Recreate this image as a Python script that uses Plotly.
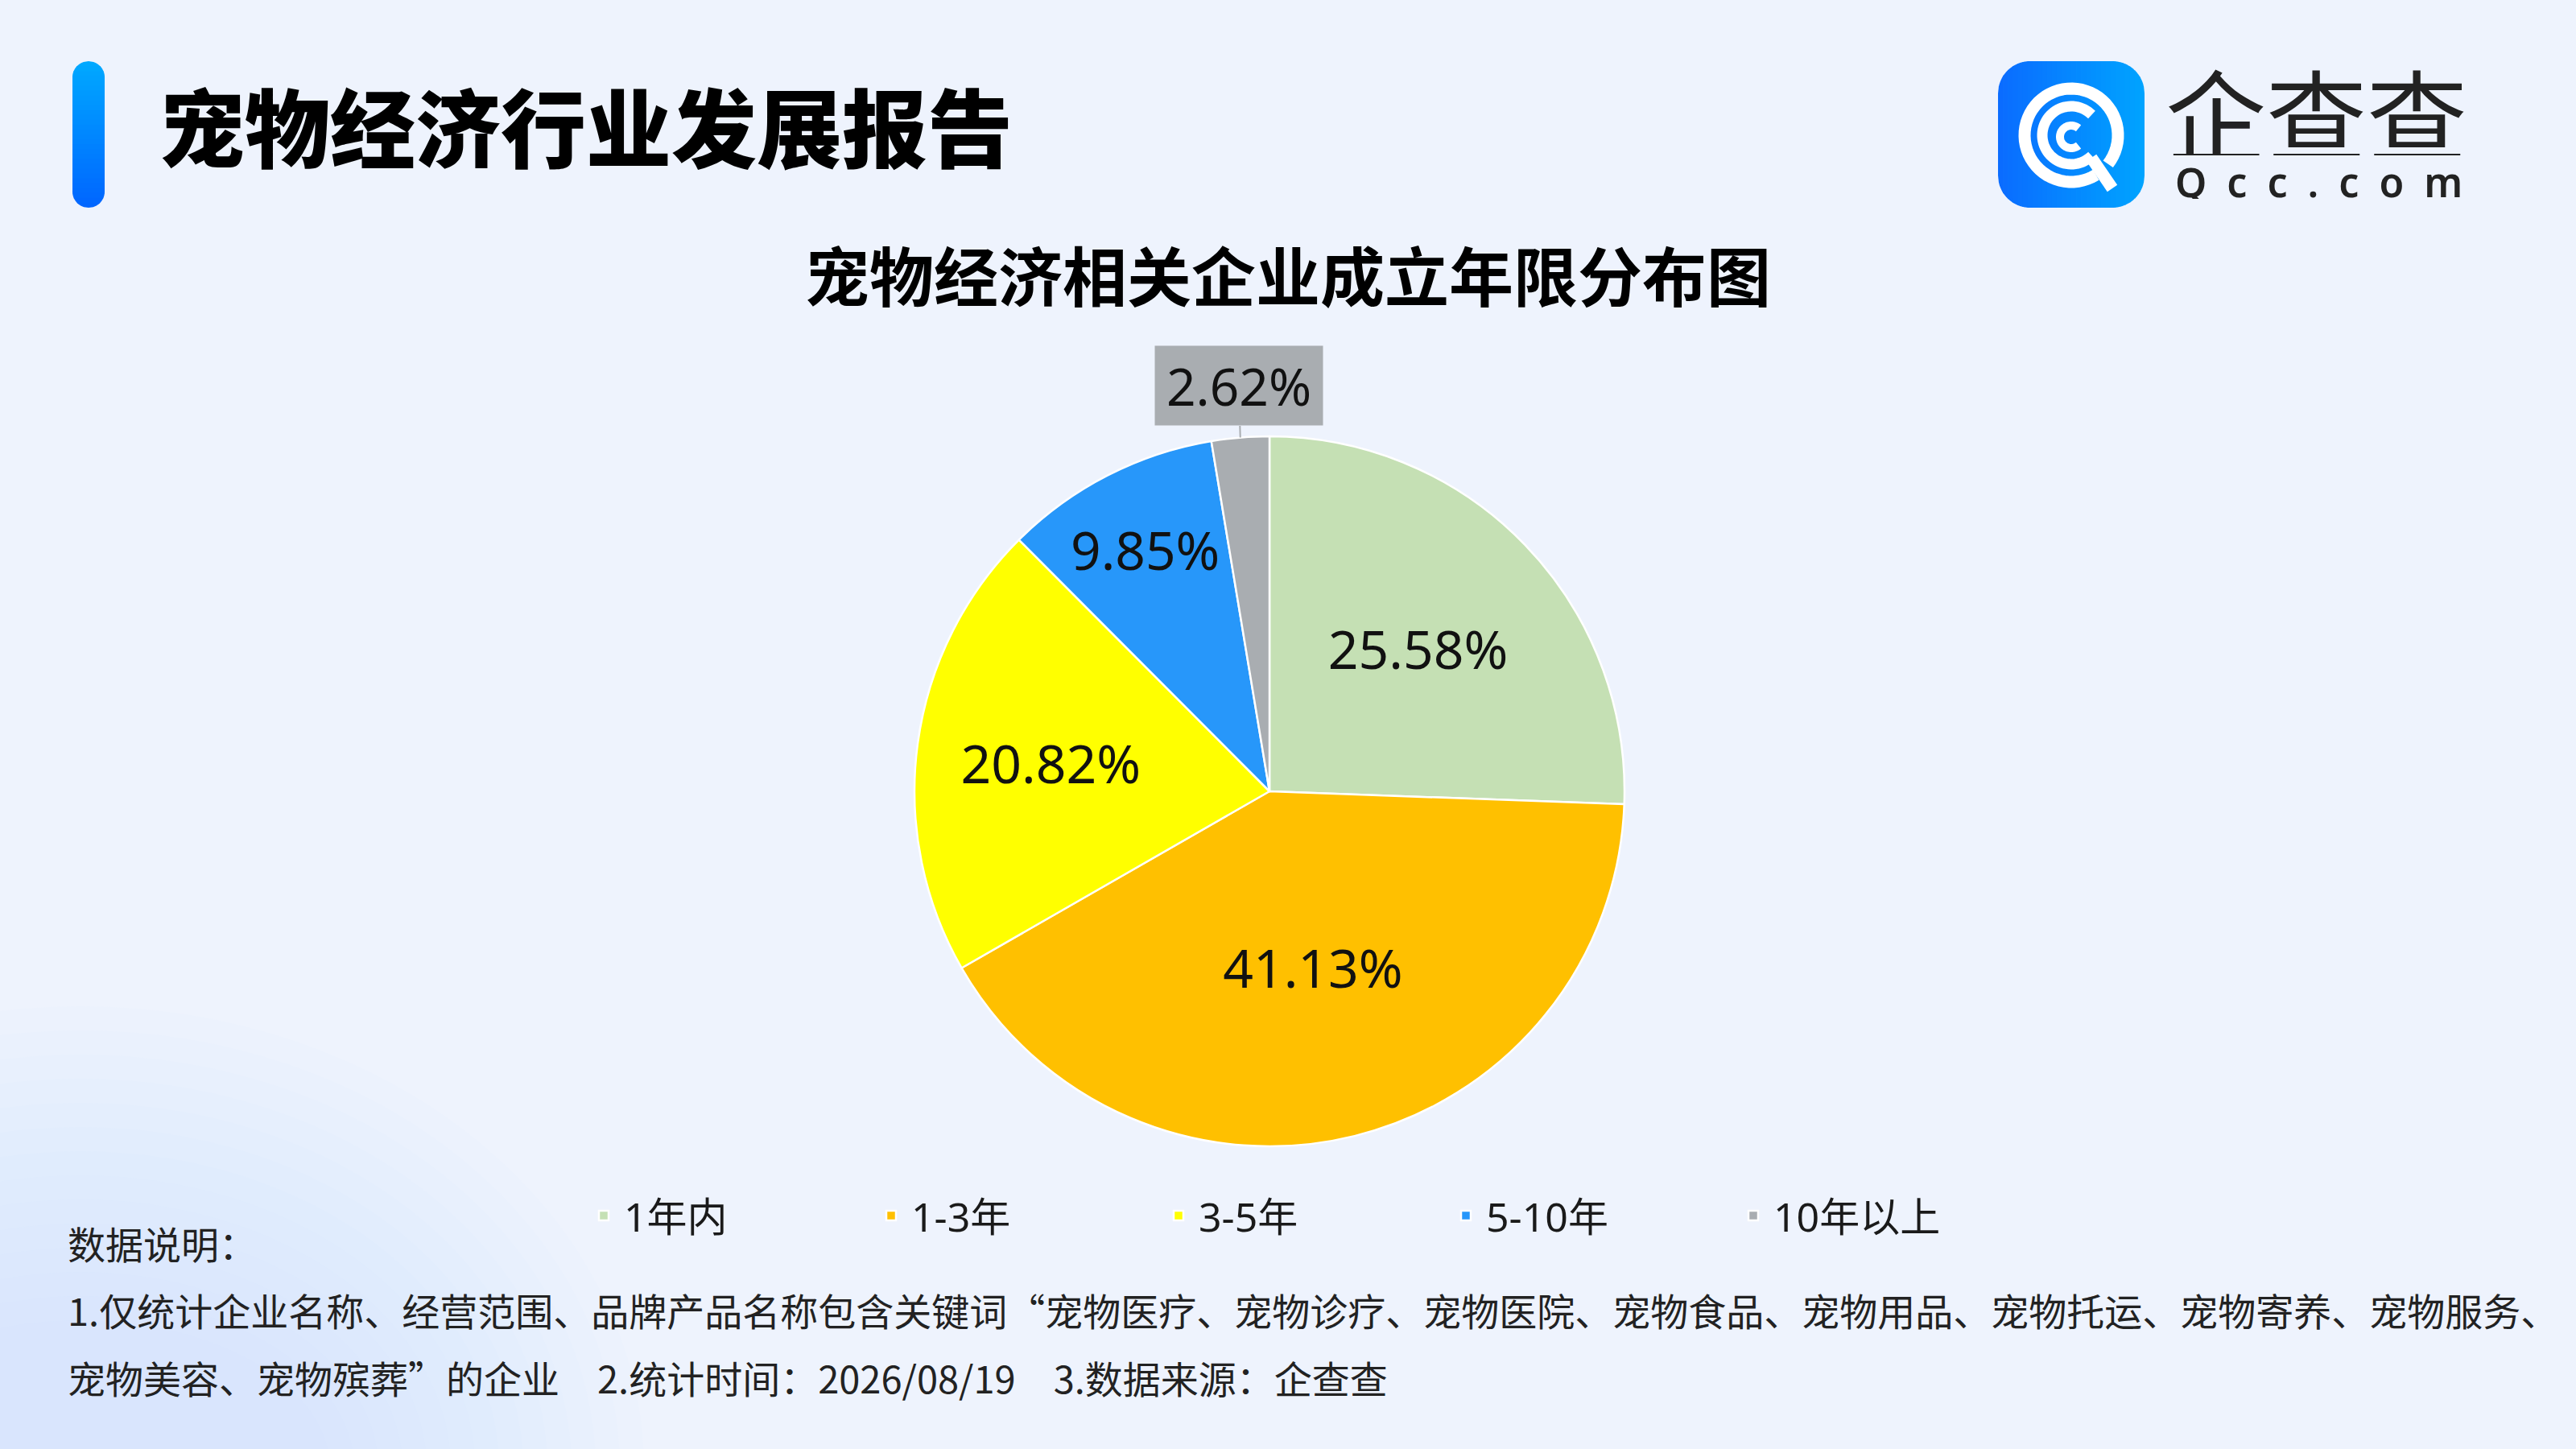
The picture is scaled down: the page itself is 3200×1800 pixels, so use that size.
import numpy as np
import plotly.graph_objects as go

W, H = 3200, 1800
FONT = 'Noto Sans, Noto Sans CJK SC'
CJK = 'Noto Sans CJK SC'

# data
labels = ['1年内', '1-3年', '3-5年', '5-10年', '10年以上']
shares = [25.58, 41.13, 20.82, 9.85, 2.62]
colors = ['#C5E0B4', '#FFC000', '#FFFF00', '#2797FA', '#A9ADB1']

report_title = '宠物经济行业发展报告'
chart_title = '宠物经济相关企业成立年限分布图'
notes = [
    '数据说明：',
    '1.仅统计企业名称、经营范围、品牌产品名称包含关键词“宠物医疗、宠物诊疗、宠物医院、宠物食品、宠物用品、宠物托运、宠物寄养、宠物服务、',
    '宠物美容、宠物殡葬”的企业\u30002.统计时间：2026/08/19\u30003.数据来源：企查查',
]


def to_paper(x, y):
    return x / W, 1 - y / H


def path_of(points, close=True):
    s = ''
    for i, (x, y) in enumerate(points):
        px, py = to_paper(x, y)
        s += ('M' if i == 0 else 'L') + f'{px:.5f},{py:.5f} '
    return s + ('Z' if close else '')


def rrect_band(x0, x1, y0, y1, rad, a, b, vertical_bands):
    # piece of a rounded rectangle between a and b (x if vertical_bands else y)
    ts = np.linspace(a, b, 8)
    lo, hi = [], []
    for t in ts:
        if vertical_bands:
            d = max(0, x0 + rad - t, t - (x1 - rad))
            e = rad - np.sqrt(max(rad ** 2 - d ** 2, 0))
            lo.append((t, y0 + e)); hi.append((t, y1 - e))
        else:
            d = max(0, y0 + rad - t, t - (y1 - rad))
            e = rad - np.sqrt(max(rad ** 2 - d ** 2, 0))
            lo.append((x0 + e, t)); hi.append((x1 - e, t))
    return lo + hi[::-1]


def mix(c1, c2, f):
    a = [int(c1[i:i + 2], 16) for i in (1, 3, 5)]
    b = [int(c2[i:i + 2], 16) for i in (1, 3, 5)]
    return '#' + ''.join(f'{round(a[k] + (b[k] - a[k]) * f):02x}' for k in range(3))


def gradient_rrect(x0, x1, y0, y1, rad, c1, c2, vertical_bands, n=24):
    out = []
    lo_, hi_ = (x0, x1) if vertical_bands else (y0, y1)
    step = (hi_ - lo_) / n
    for i in range(n):
        a = lo_ + i * step
        b = min(hi_, a + step + 0.8)
        out.append(dict(type='path', xref='paper', yref='paper', layer='below',
                        path=path_of(rrect_band(x0, x1, y0, y1, rad, a, b, vertical_bands)),
                        fillcolor=mix(c1, c2, i / (n - 1)), line=dict(width=0)))
    return out


def arc(cx, cy, rr, a0, a1, n=60):
    t = np.radians(np.linspace(a0, a1, n))
    return [(cx + rr * np.cos(v), cy + rr * np.sin(v)) for v in t]


shapes = []

# soft background glow
for k in range(14):
    shapes.append(dict(type='circle', xref='paper', yref='paper', layer='below',
                       x0=(-600 + k * 30) / W, x1=(800 - k * 30) / W,
                       y0=1 - (2400 - k * 30) / H, y1=1 - (1250 + k * 30) / H,
                       fillcolor='#CFE3FA', opacity=0.03, line=dict(width=0)))
for k in range(12):
    shapes.append(dict(type='circle', xref='paper', yref='paper', layer='below',
                       x0=(1100 + k * 30) / W, x1=(2000 - k * 30) / W,
                       y0=1 - (250 - k * 20) / H, y1=1 - (-350 + k * 20) / H,
                       fillcolor='#FFFFFF', opacity=0.05, line=dict(width=0)))

# title accent bar
shapes += gradient_rrect(90, 130, 76, 258, 20, '#00A8FF', '#0066FF', False, n=30)

# logo tile
shapes += gradient_rrect(2482, 2664, 76, 258, 40, '#0A6CFF', '#00A3FF', True, n=30)
lcx, lcy = 2573, 168
shapes.append(dict(type='path', xref='paper', yref='paper',
                   path=path_of(arc(lcx, lcy, 58, 58, 398), close=False), line=dict(color='white', width=15)))
shapes.append(dict(type='path', xref='paper', yref='paper',
                   path=path_of(arc(lcx, lcy, 36, 45, 315), close=False), line=dict(color='white', width=13)))
shapes.append(dict(type='path', xref='paper', yref='paper',
                   path=path_of(arc(lcx, lcy + 2, 14, 50, 310), close=False), line=dict(color='white', width=10)))
shapes.append(dict(type='path', xref='paper', yref='paper',
                   path=path_of([(2598, 196), (2624, 234)], close=False), line=dict(color='white', width=15)))

# pie placement
cx, cy, r = 1577, 983, 441
dom_x = [(cx - r - 80) / W, (cx + r + 80) / W]
dom_y = [1 - (cy + r) / H, 1 - (cy - r) / H]

fig = go.Figure()
fig.add_trace(go.Pie(
    labels=labels, values=shares, sort=False, direction='clockwise', rotation=0,
    marker=dict(colors=colors, line=dict(color='white', width=2.5)),
    texttemplate='%{value:.2f}%',
    textposition=['inside'] * (len(shares) - 1) + ['none'],
    insidetextorientation='horizontal',
    textfont=dict(family=FONT, size=66, color='#111111'),
    domain=dict(x=dom_x, y=dom_y),
    hoverinfo='label+percent',
))

# label of the thin slice, sitting above the pie
cum = np.cumsum(shares)
mid = (cum[-1] - shares[-1] / 2) / cum[-1] * 2 * np.pi
ex, ey = cx + r * np.sin(mid), cy - r * np.cos(mid)
annotations = [dict(
    x=to_paper(ex, ey)[0], y=to_paper(ex, ey)[1], xref='paper', yref='paper',
    text=f'{shares[-1]:.2f}%', showarrow=True, arrowhead=0, arrowwidth=2,
    arrowcolor=colors[-1], ax=-2, ay=-64, standoff=0,
    bgcolor=colors[-1], width=206, height=96,
    font=dict(family=FONT, size=64, color='#111111'),
)]

annotations.append(dict(x=196 / W, y=to_paper(0, 154)[1], xref='paper', yref='paper',
                        xanchor='left', yanchor='middle', showarrow=False, text=report_title,
                        font=dict(family=CJK, size=106, color='#000000', weight=900)))
annotations.append(dict(x=2688 / W, y=to_paper(0, 138)[1], xref='paper', yref='paper',
                        xanchor='left', yanchor='middle', showarrow=False, text='企查查',
                        height=110,
                        font=dict(family=CJK, size=125, color='#222222', weight=400)))
annotations.append(dict(x=2700 / W, y=to_paper(0, 226)[1], xref='paper', yref='paper',
                        xanchor='left', yanchor='middle', showarrow=False,
                        text='\u2002'.join('Qcc.com'), height=42,
                        font=dict(family=FONT, size=50, color='#222222', weight=600)))

for txt, yy in zip(notes, [1543, 1626, 1710]):
    annotations.append(dict(x=82 / W, y=to_paper(0, yy)[1], xref='paper', yref='paper',
                            xanchor='left', yanchor='middle', showarrow=False, text=txt,
                            font=dict(family=CJK, size=47, color='#222222')))

fig.update_layout(
    width=W, height=H,
    margin=dict(l=0, r=0, t=0, b=0),
    paper_bgcolor='#EEF3FD',
    plot_bgcolor='#EEF3FD',
    title=dict(text=chart_title, x=0.5, xanchor='center', y=to_paper(0, 346)[1], yanchor='middle',
               font=dict(family=CJK, size=80, color='#000000', weight=700)),
    legend=dict(orientation='h', x=725 / W, y=to_paper(0, 1510)[1], xanchor='left', yanchor='middle',
                font=dict(family=FONT, size=50, color='#1a1a1a'), itemwidth=40,
                entrywidth=302, entrywidthmode='pixels', bgcolor='rgba(0,0,0,0)'),
    shapes=shapes,
    annotations=annotations,
    showlegend=True,
)

fig.write_html('out.html', config={'displayModeBar': False},
               post_script="document.body.style.margin='0px';")
